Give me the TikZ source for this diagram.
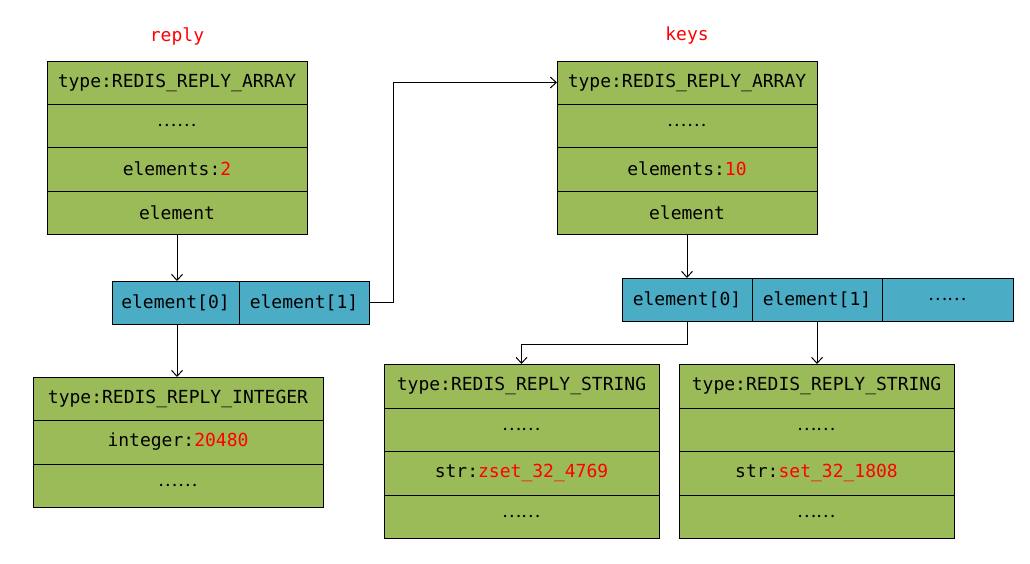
\documentclass[tikz,border=0pt]{standalone}
\usepackage{fontspec}
\setmonofont{DejaVu Sans Mono}
\newfontfamily\cjk{Noto Sans CJK SC}
\usetikzlibrary{arrows.meta}
\definecolor{cellgreen}{RGB}{155,187,89}
\definecolor{cellblue}{RGB}{75,172,198}
\newcommand{\dotsrow}{{\cjk ……}}
\newcommand{\rv}[1]{\textcolor{red}{#1}}
\tikzset{
  cell/.style={draw=black, line width=1pt, fill=cellgreen, anchor=north west,
    inner sep=0pt, outer sep=0pt, minimum width=#1, font=\ttfamily\fontsize{18}{20}\selectfont},
  bcell/.style={cell=#1, fill=cellblue},
  arr/.style={line width=1pt, -{Straight Barb[length=6pt,width=11pt,line width=1pt]}},
  title/.style={text=red, font=\ttfamily\fontsize{18}{20}\selectfont}
}
\begin{document}
\begin{tikzpicture}[x=1pt,y=-1pt]
\useasboundingbox (0,0) rectangle (1030,563);
% titles
\node[title] (treply) at (177,36) {reply};
\node[title] (tkeys) at (687,36) {keys};
% reply box
\node[cell=260pt, minimum height=43pt] (r1) at (47,61) {type:REDIS\_REPLY\_ARRAY};
\node[cell=260pt, minimum height=43pt] (r2) at (47,104) {\dotsrow};
\node[cell=260pt, minimum height=44pt] (r3) at (47,147) {elements:\rv{2}};
\node[cell=260pt, minimum height=43pt] (r4) at (47,191) {element};
% reply element array
\node[bcell=127pt, minimum height=43pt] (e0) at (112,281) {element[0]};
\node[bcell=130pt, minimum height=43pt] (e1) at (239,281) {element[1]};
% keys box
\node[cell=260pt, minimum height=43pt] (k1) at (557,61) {type:REDIS\_REPLY\_ARRAY};
\node[cell=260pt, minimum height=43pt] (k2) at (557,104) {\dotsrow};
\node[cell=260pt, minimum height=44pt] (k3) at (557,147) {elements:\rv{10}};
\node[cell=260pt, minimum height=43pt] (k4) at (557,191) {element};
% keys element array
\node[bcell=130pt, minimum height=43pt] (f0) at (622,278) {element[0]};
\node[bcell=130pt, minimum height=43pt] (f1) at (752,278) {element[1]};
\node[bcell=131pt, minimum height=43pt] (f2) at (882,278) {\dotsrow};
% integer box
\node[cell=290pt, minimum height=43pt] (i1) at (33,377) {type:REDIS\_REPLY\_INTEGER};
\node[cell=290pt, minimum height=44pt] (i2) at (33,420) {integer:\rv{20480}};
\node[cell=290pt, minimum height=43pt] (i3) at (33,464) {\dotsrow};
% string box 1
\node[cell=275pt, minimum height=44pt] (s1) at (384,364) {type:REDIS\_REPLY\_STRING};
\node[cell=275pt, minimum height=43pt] (s2) at (384,408) {\dotsrow};
\node[cell=275pt, minimum height=44pt] (s3) at (384,451) {str:\rv{zset\_32\_4769}};
\node[cell=275pt, minimum height=43pt] (s4) at (384,495) {\dotsrow};
% string box 2
\node[cell=275pt, minimum height=44pt] (t1) at (679,364) {type:REDIS\_REPLY\_STRING};
\node[cell=275pt, minimum height=43pt] (t2) at (679,408) {\dotsrow};
\node[cell=275pt, minimum height=44pt] (t3) at (679,451) {str:\rv{set\_32\_1808}};
\node[cell=275pt, minimum height=43pt] (t4) at (679,495) {\dotsrow};
% connectors
\draw[arr] (r4.south) -- (r4.south |- e0.north);
\draw[arr] (r4.south |- e0.south) -- (r4.south |- i1.north);
\draw[arr] (e1.east) -- ++(24,0) |- (k1.west);
\draw[arr] (k4.south) -- (k4.south |- f0.north);
\draw[arr] (f0.south) -- ++(0,23) -| (s1.north);
\draw[arr] (f1.south) -- (f1.south |- t1.north);
\end{tikzpicture}
\end{document}
